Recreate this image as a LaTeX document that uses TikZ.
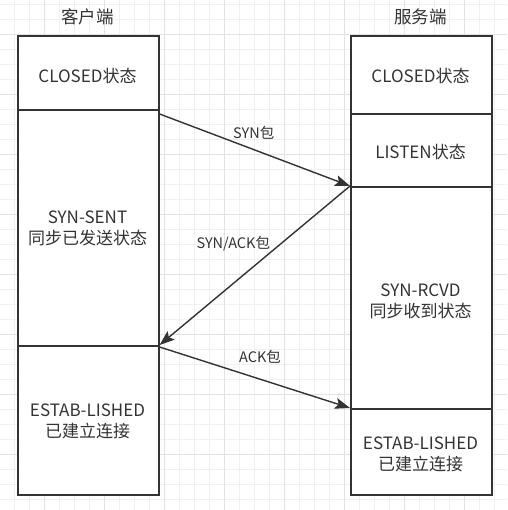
\documentclass[tikz,border=0pt]{standalone}
\usepackage{fontspec}
\setmainfont{Noto Sans CJK SC}
\usetikzlibrary{arrows.meta}
\definecolor{ink}{HTML}{333333}
\definecolor{gridminor}{HTML}{F0F0F0}
\definecolor{gridmajor}{HTML}{E2E2E2}
\begin{document}
\begin{tikzpicture}[x=1pt,y=-1pt,
  box/.style={draw=ink, line width=1.6pt, fill=white, minimum width=141pt, anchor=north west, inner sep=0pt},
  lbl/.style={text=ink, font=\fontsize{17}{21}\selectfont, align=center, inner sep=0pt},
  ttl/.style={text=ink, font=\fontsize{17.5}{21}\selectfont, inner sep=0pt},
  alb/.style={text=ink, font=\fontsize{14.5}{17}\selectfont, inner sep=0pt},
  conn/.style={draw=ink, line width=1.4pt, -{Stealth[length=15pt,width=11pt,inset=3pt]}}]
\fill[white] (0,0) rectangle (507,510);
\useasboundingbox (0,0) rectangle (507,510);
% grid
\foreach \x in {14.3,29.3,...,507} \draw[gridminor, line width=0.8pt] (\x,0) -- (\x,510);
\foreach \y in {4.3,19.3,...,510} \draw[gridminor, line width=0.8pt] (0,\y) -- (507,\y);
\foreach \x in {44.3,104.3,...,507} \draw[gridmajor, line width=0.8pt] (\x,0) -- (\x,510);
\foreach \y in {34.3,94.3,...,510} \draw[gridmajor, line width=0.8pt] (0,\y) -- (507,\y);
% titles
\node[ttl] (tl) at (87.5,16.7) {客户端};
\node[ttl] (tr) at (420.5,16.7) {服务端};
% client boxes
\node[box, minimum height=74pt] (lclosed) at (17,35) {};
\node[box, minimum height=236pt] (lsent) at (17,109) {};
\node[box, minimum height=149pt] (lest) at (17,345) {};
% server boxes
\node[box, minimum height=78pt] (rclosed) at (350,35) {};
\node[box, minimum height=73pt] (rlisten) at (350,113) {};
\node[box, minimum height=222pt] (rrcvd) at (350,186) {};
\node[box, minimum height=86pt] (rest) at (350,408) {};
% texts
\node[lbl] (tlclosed) at (87.5,76) {CLOSED状态};
\node[lbl] (tlsent) at (87.5,228) {SYN-SENT\\同步已发送状态};
\node[lbl] (tlest) at (87.5,421.3) {ESTAB-LISHED\\已建立连接};
\node[lbl] (trclosed) at (420.5,76) {CLOSED状态};
\node[lbl] (trlisten) at (420.5,151.7) {LISTEN状态};
\node[lbl] (trrcvd) at (420.5,301) {SYN-RCVD\\同步收到状态};
\node[lbl] (trest) at (420.5,454) {ESTAB-LISHED\\已建立连接};
% connectors
\coordinate (synS) at ([yshift=-5pt]lsent.north east);
\coordinate (ackS) at ([yshift=-2pt]lest.north east);
\draw[conn] (synS) -- (rrcvd.north west);
\draw[conn] (rrcvd.north west) -- (lest.north west -| lsent.east);
\draw[conn] (ackS) -- (rest.north west);
% connector labels
\node[alb] (lsyn) at (253.7,133.3) {SYN包};
\node[alb] (lsynack) at (233.3,244) {SYN/ACK包};
\node[alb] (lack) at (260,356.7) {ACK包};
\end{tikzpicture}
\end{document}
